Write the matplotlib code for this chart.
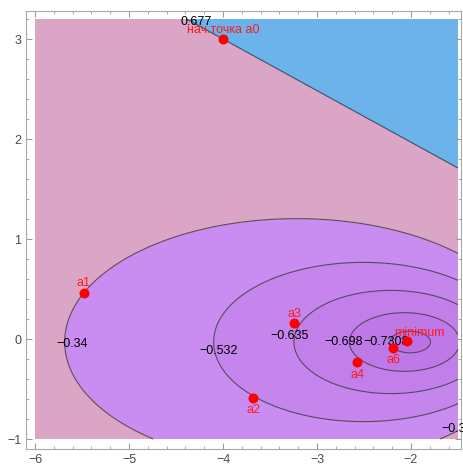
import numpy as np
import matplotlib
matplotlib.use('Agg')
import matplotlib.pyplot as plt
from matplotlib.ticker import MultipleLocator

plt.rcParams['font.family'] = ['Liberation Sans', 'DejaVu Sans']
plt.rcParams['contour.negative_linestyle'] = 'solid'

# ---- data ----
point_names = ['нач.точка a0', 'a1', 'a2', 'a3', 'a4', 'a6', 'minimum']
point_x = [-4.0, -5.48, -3.68, -3.24, -2.57, -2.19, -2.04]
point_y = [3.0, 0.46, -0.59, 0.16, -0.23, -0.09, -0.02]

contour_levels = [-0.730, -0.698, -0.635, -0.532, -0.34, 0.677]
label_texts = ['0.677', '−0.34', '−0.532', '−0.635', '−0.698', '−0.7308', '−0.34']
label_x = [-4.29, -5.60, -4.05, -3.29, -2.72, -2.27, -1.505]
label_y = [3.17, -0.05, -0.12, 0.03, -0.03, -0.03, -0.905]

xticks = [-6, -5, -4, -3, -2]
yticks = [-1, 0, 1, 2, 3]

# offsets of the point labels (points)
lab_dx = [0, 0, 0, 0, 0, 0, 8.6]
lab_dy = [6.5, 7.2, -8.9, 6.8, -9.7, -8.6, 5.5]

# ---- field parameters (fitted to the contour shapes) ----
VMIN, XC, Y0, K, BK = -0.736, -2.0, -0.03, 0.8, 1.24
P1, P2 = 1.77, 1.68

gx = np.linspace(-6, -1.5, 460)
gy = np.linspace(-1, 3.2, 430)
X, Y = np.meshgrid(gx, gy)
Yc = Y - Y0


def center(b):
    return np.where(b <= BK, XC - K * b ** 2, XC - K * BK ** 2 - 1.98 * (b - BK))


def inside(b):
    return ((X - center(b)) / (2 * b)) ** 2 + (Yc / b) ** 2 <= 1


lo = np.full(X.shape, 1e-4)
hi = np.full(X.shape, 8.0)
for _ in range(45):
    mid = 0.5 * (lo + hi)
    ins = inside(mid)
    hi = np.where(ins, mid, hi)
    lo = np.where(ins, lo, mid)
b = hi
v = VMIN + b ** 2 / (P1 + P2 * b)
v = np.minimum(v, 0.5)
L = 0.677 + 5 * ((Y - 3.0) + 0.516 * (X + 4.0))
F = np.maximum(v, L)

fig = plt.figure(figsize=(4.64, 4.67), dpi=100)
ax = fig.add_axes([26 / 464, 1 - 449 / 467, 435 / 464, 438 / 467])
ax.set_facecolor('white')

fill_levels = [-5] + contour_levels + [50]
fill_colors = ['#bc72e6', '#bf78e8', '#c27fea', '#c585ed', '#c98cf1', '#dba5c5', '#6cb3eb']
ax.contourf(X, Y, F, levels=fill_levels, colors=fill_colors, zorder=1)
ax.contour(X, Y, F, levels=contour_levels, colors='#3a3a3a', linewidths=0.8,
           linestyles='solid', alpha=0.8, zorder=2)

for s, lx, ly in zip(label_texts, label_x, label_y):
    ax.text(lx, ly, s, ha='center', va='center', fontsize=9, color='black', zorder=3)

ax.plot(point_x, point_y, 'o', color='#ff0000', markersize=7.2, markeredgewidth=0, zorder=5)
for name, px, py, dx, dy in zip(point_names, point_x, point_y, lab_dx, lab_dy):
    ax.annotate(name, (px, py), xytext=(dx, dy), textcoords='offset points',
                ha='center', va='center', color='#ff1a1a', fontsize=9, zorder=6)

ax.set_xlim(-6.096, -1.468)
ax.set_ylim(-1.10, 3.28)
ax.set_xticks(xticks)
ax.set_yticks(yticks)
ax.xaxis.set_minor_locator(MultipleLocator(0.2))
ax.yaxis.set_minor_locator(MultipleLocator(0.2))
ax.tick_params(which='both', direction='in', top=True, right=True, color='#9a9a9a',
               labelcolor='#4a4a4a', labelsize=9)
ax.tick_params(which='major', length=4, width=0.8)
ax.tick_params(which='minor', length=2.2, width=0.6)
for sp in ax.spines.values():
    sp.set_color('#a8a8a8')
    sp.set_linewidth(0.8)

fig.savefig('out.png', dpi=100)
